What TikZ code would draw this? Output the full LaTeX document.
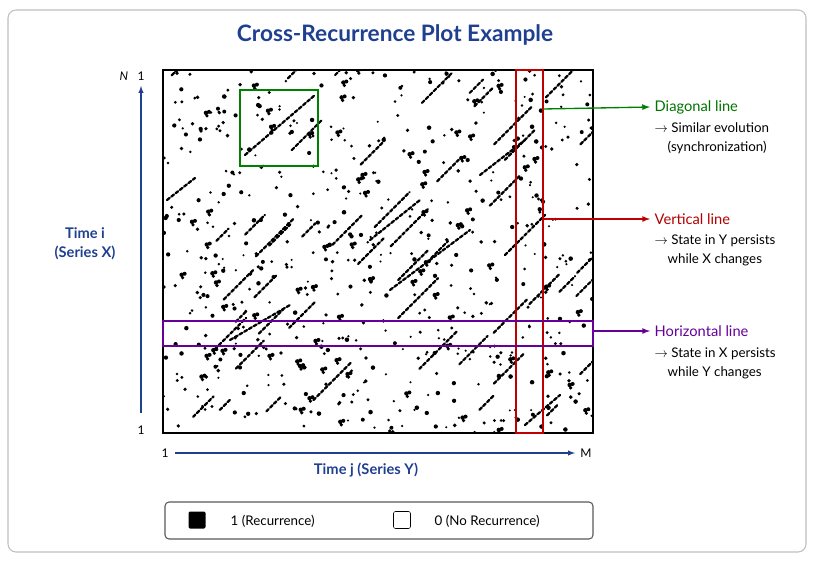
\documentclass[tikz,border=0pt]{standalone}
\usepackage{fontspec}
\setmainfont{Lato}
\definecolor{navyc}{HTML}{1F3F8F}
\begin{document}
\begin{tikzpicture}[x=0.75pt,y=-0.75pt,
  navy/.style={text=navyc},
  ann/.style={font=\fontsize{10}{12}\selectfont, anchor=west},
  seg/.style={line width=1.7pt, line cap=round, dash pattern=on 2.5pt off 1.6pt}]
\useasboundingbox (0,0) rectangle (816,564);
\node[draw=gray!50, rounded corners=6pt, line width=0.8pt, minimum width=798*0.75pt, minimum height=542*0.75pt] (outer) at (407,281) {};
\node[navy, font=\bfseries\fontsize{17}{20}\selectfont] (title) at (395,35) {Cross-Recurrence Plot Example};
% dots
\begin{scope}
\clip (163,70) rectangle (593,433);
\pgfmathsetseed{4}
\foreach \k in {1,...,550}{
  \pgfmathsetmacro\xx{163+430*rnd}
  \pgfmathsetmacro\yy{70+363*rnd}
  \pgfmathsetmacro\rr{1.1+1.2*rnd}
  \fill (\xx,\yy) circle (\rr);
}
\foreach \k in {1,...,70}{
  \pgfmathsetmacro\xx{163+430*rnd}
  \pgfmathsetmacro\yy{70+363*rnd}
  \fill (\xx,\yy) circle (2.2) (\xx+3,\yy-1) circle (2) (\xx+1,\yy+3) circle (1.8);
}
\foreach \k in {1,...,50}{
  \pgfmathsetmacro\xx{163+430*rnd}
  \pgfmathsetmacro\yy{70+363*rnd}
  \pgfmathsetmacro\ll{10+30*rnd}
  \draw[seg] (\xx,\yy) -- ++(\ll,-\ll);
}
\draw[seg] (167,200) -- (195,178);
\draw[seg] (370,240) -- (420,200);
\draw[seg] (390,290) -- (470,230);
\draw[seg] (245,155) -- (315,95);
\draw[seg] (505,255) -- (545,215);
\draw[seg] (525,425) -- (560,395);
\draw[seg] (230,340) -- (290,305);
\draw[seg] (480,175) -- (525,140);
\end{scope}
\node[draw, line width=1.2pt, minimum width=430*0.75pt, minimum height=363*0.75pt, inner sep=0pt] (plot) at (378,251.5) {};
% highlighted regions
\node[draw=green!50!black, line width=0.9pt, minimum width=78*0.75pt, minimum height=76*0.75pt, inner sep=0pt] (grect) at (279,128) {};
\node[draw=red!75!black, line width=0.9pt, minimum width=27*0.75pt, minimum height=363*0.75pt, inner sep=0pt] (rrect) at (529.5,251.5) {};
\node[draw=violet!80!blue, line width=0.9pt, minimum width=430*0.75pt, minimum height=25*0.75pt, inner sep=0pt] (prect) at (378,333.5) {};
% axes
\node[font=\itshape\small] (N) at (124,76) {N};
\node[font=\small] (one1) at (141,76) {1};
\node[font=\small] (one2) at (141,430) {1};
\node[font=\small] (one3) at (165,453) {1};
\node[font=\small] (M) at (586,453) {M};
\draw[-latex, navyc, line width=0.8pt] (one2.north) ++(0,-8) -- (141,86);
\draw[-latex, navyc, line width=0.8pt] (175,453) -- (575,453);
\node[navy, font=\bfseries\fontsize{11}{14}\selectfont, align=center] (yl) at (85,244) {Time i\\(Series X)};
\node[navy, font=\bfseries\fontsize{11}{14}\selectfont] (xl) at (366,470) {Time j (Series Y)};
% annotations
\coordinate (gs) at (543,109);
\coordinate (rs) at (543,219);
\coordinate (ps) at (593,331);
\node[ann, text=green!45!black, font=\fontsize{11}{13}\selectfont] (gt) at (650,107) {Diagonal line};
\node[ann] at (650,128) {$\rightarrow$ Similar evolution};
\node[ann] at (663,147) {(synchronization)};
\node[ann, text=red!70!black, font=\fontsize{11}{13}\selectfont] (rt) at (650,219) {Vertical line};
\node[ann] at (650,241) {$\rightarrow$ State in Y persists};
\node[ann] at (663,260) {while X changes};
\node[ann, text=violet!80!blue, font=\fontsize{11}{13}\selectfont] (pt) at (650,331) {Horizontal line};
\node[ann] at (650,354) {$\rightarrow$ State in X persists};
\node[ann] at (663,373) {while Y changes};
\draw[-latex, green!50!black, line width=1pt] (gs) -- (gt.west);
\draw[-latex, red!75!black, line width=1pt] (rs) -- (rt.west);
\draw[-latex, violet!80!blue, line width=1pt] (ps) -- (pt.west);
% legend
\node[draw=gray!70!black, rounded corners=3pt, line width=0.8pt, minimum width=428*0.75pt, minimum height=37*0.75pt] (leg) at (379,520.5) {};
\node[fill=black, rounded corners=1pt, minimum size=17*0.75pt, inner sep=0pt] (lb) at (197,520) {};
\node[ann, font=\fontsize{10}{12}\selectfont] at (226,521) {1 (Recurrence)};
\node[draw, rounded corners=1.5pt, minimum size=17*0.75pt, inner sep=0pt] (lw) at (402,520) {};
\node[ann, font=\fontsize{10}{12}\selectfont] at (430,521) {0 (No Recurrence)};
\end{tikzpicture}
\end{document}
